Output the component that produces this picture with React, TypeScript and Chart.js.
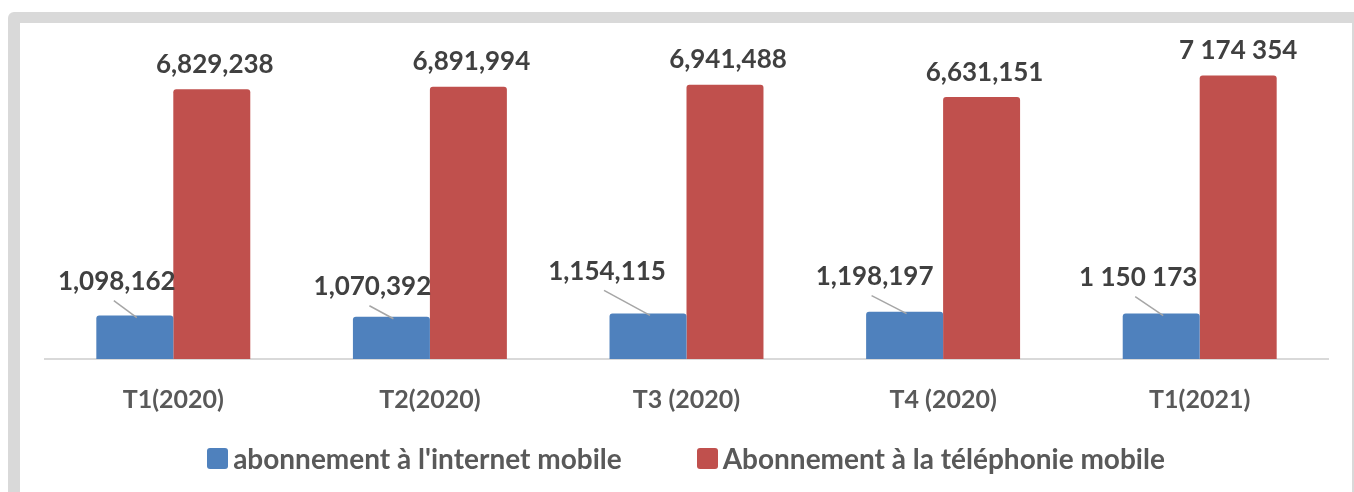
import React, { useEffect, useRef } from "react";
import { Chart, registerables } from "chart.js";

Chart.register(...registerables);

const categories = ["T1(2020)", "T2(2020)", "T3 (2020)", "T4 (2020)", "T1(2021)"];
const internetValues = [1098162, 1070392, 1154115, 1198197, 1150173];
const telephonyValues = [6829238, 6891994, 6941488, 6631151, 7174354];
const internetLabels = ["1,098,162", "1,070,392", "1,154,115", "1,198,197", "1 150 173"];
const telephonyLabels = ["6,829,238", "6,891,994", "6,941,488", "6,631,151", "7 174 354"];
const seriesNames = ["abonnement à l'internet mobile", "Abonnement à la téléphonie mobile"];
const yMax = 8000000;

// label placement (offset of label centre from bar top centre)
const internetLabelOffsets = [[-18, -35], [-19, -31], [-41, -43], [-30, -36], [-23, -37]];
const telephonyLabelOffsets = [[3, -26], [3, -26], [3, -26], [3, -26], [0, -26]];

const BLUE = "#4f81bd";
const RED = "#c0504d";
const FONT = "Lato, 'Open Sans', sans-serif";

const labelPlugin = {
  id: "valueLabels",
  afterDatasetsDraw(chart: any) {
    const ctx = chart.ctx;
    ctx.save();
    ctx.font = `bold 26px ${FONT}`;
    ctx.textAlign = "center";
    ctx.textBaseline = "alphabetic";
    chart.data.datasets.forEach((_ds: any, di: number) => {
      const meta = chart.getDatasetMeta(di);
      meta.data.forEach((bar: any, i: number) => {
        const texts = di === 0 ? internetLabels : telephonyLabels;
        const off = di === 0 ? internetLabelOffsets[i] : telephonyLabelOffsets[i];
        const cx = bar.x + off[0];
        const cy = bar.y + off[1];
        if (di === 0) {
          ctx.strokeStyle = "#a6a6a6";
          ctx.lineWidth = 1.5;
          ctx.beginPath();
          ctx.moveTo(cx - 3, cy + 20);
          ctx.lineTo(bar.x + 2, bar.y + 2);
          ctx.stroke();
        }
        ctx.fillStyle = "#404040";
        ctx.fillText(texts[i], cx, cy + 9.5);
      });
    });
    ctx.restore();
  },
};

export default function App() {
  const ref = useRef<HTMLCanvasElement | null>(null);

  useEffect(() => {
    if (!ref.current) return;
    const chart = new Chart(ref.current, {
      type: "bar",
      data: {
        labels: categories,
        datasets: [
          {
            label: seriesNames[0],
            data: internetValues,
            backgroundColor: BLUE,
            borderRadius: 3,
            categoryPercentage: 0.6,
            barPercentage: 1.0,
          },
          {
            label: seriesNames[1],
            data: telephonyValues,
            backgroundColor: RED,
            borderRadius: 3,
            categoryPercentage: 0.6,
            barPercentage: 1.0,
          },
        ],
      },
      options: {
        responsive: false,
        animation: false,
        devicePixelRatio: 1,
        layout: { padding: { left: 25, right: 24, top: 20, bottom: 51 } },
        plugins: {
          legend: { display: false },
          tooltip: { enabled: false },
        },
        scales: {
          x: {
            grid: { display: false, drawTicks: false },
            border: { display: true, color: "#d9d9d9", width: 2 },
            ticks: {
              color: "#595959",
              padding: 26,
              font: { family: FONT, size: 25, weight: "bold" },
            },
          },
          y: {
            display: false,
            min: 0,
            max: yMax,
          },
        },
      },
      plugins: [labelPlugin],
    });
    return () => chart.destroy();
  }, []);

  const legendItem = (color: string, text: string) => (
    <div style={{ display: "flex", alignItems: "center" }}>
      <div style={{ width: 21, height: 21, background: color, borderRadius: 3, marginRight: 5 }} />
      <span style={{ font: `bold 28px ${FONT}`, color: "#595959", lineHeight: "26px" }}>{text}</span>
    </div>
  );

  return (
    <div
      style={{
        position: "fixed",
        left: 8,
        top: 12,
        right: 0,
        bottom: 0,
        background: "#d9d9d9",
        borderTopLeftRadius: 6,
      }}
    >
      <div
        style={{
          position: "absolute",
          left: 12,
          top: 11,
          width: 1332,
          height: 469,
          background: "#ffffff",
          overflow: "hidden",
        }}
      >
        <canvas ref={ref} width={1332} height={469} style={{ display: "block" }} />
        <div
          style={{
            position: "absolute",
            left: 0,
            right: 0,
            top: 422,
            display: "flex",
            justifyContent: "center",
            gap: 75,
          }}
        >
          {legendItem(BLUE, seriesNames[0])}
          {legendItem(RED, seriesNames[1])}
        </div>
      </div>
    </div>
  );
}
